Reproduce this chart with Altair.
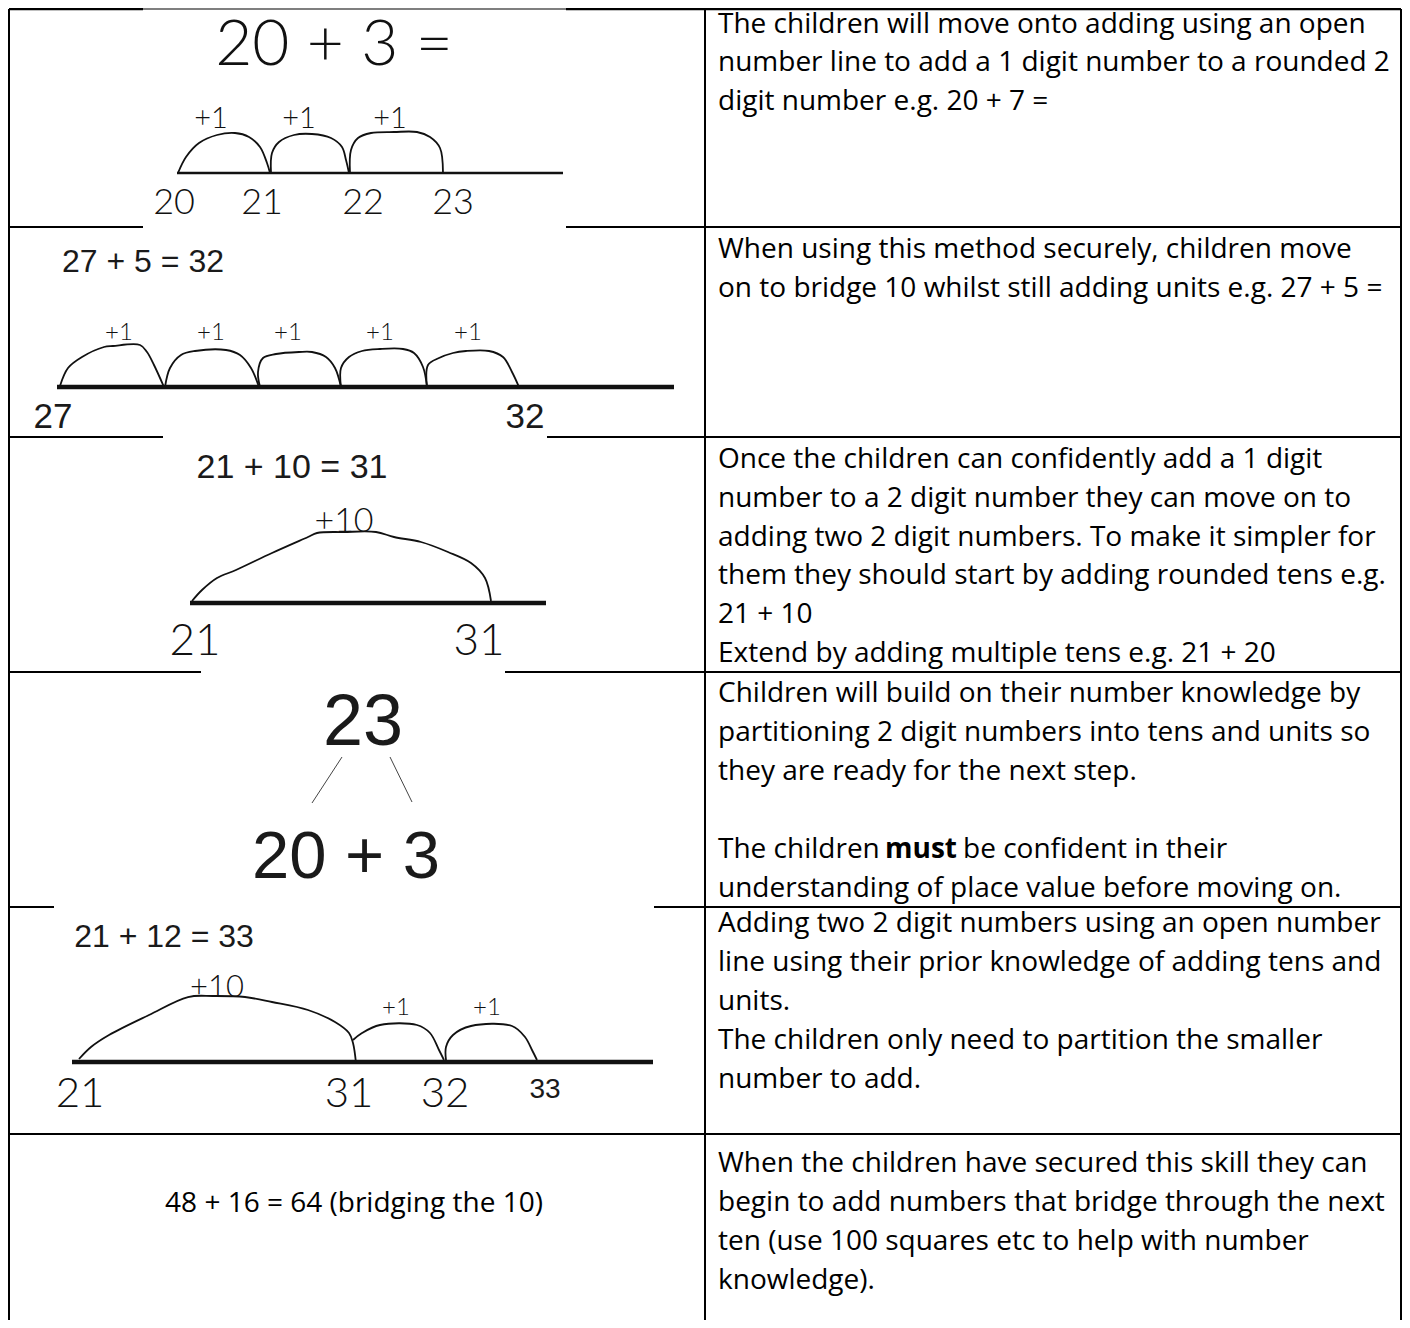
import altair as alt
import pandas as pd

# ---------------- table grid ----------------
H_Y  = [9, 9, 9, 227, 227, 437, 437, 672, 672, 907, 907, 1134]
H_X1 = [9, 143, 566, 9, 566, 9, 547, 9, 505, 9, 654, 9]
H_X2 = [143, 566, 1401, 143, 1401, 163, 1401, 201, 1401, 54, 1401, 1401]
H_W  = [2.5, 1.2, 2.5, 2, 2, 2, 2, 2, 2, 2, 2, 2]
V_X  = [9, 705, 1401]
V_Y1 = [9, 9, 9]
V_Y2 = [1320, 1320, 1320]

# ---------------- right column text ----------------
BODY_TEXT = [
    "The children will move onto adding using an open",
    "number line to add a 1 digit number to a rounded 2",
    "digit number e.g. 20 + 7 =",
    "When using this method securely, children move",
    "on to bridge 10 whilst still adding units e.g. 27 + 5 =",
    "Once the children can confidently add a 1 digit",
    "number to a 2 digit number they can move on to",
    "adding two 2 digit numbers. To make it simpler for",
    "them they should start by adding rounded tens e.g.",
    "21 + 10",
    "Extend by adding multiple tens e.g. 21 + 20",
    "Children will build on their number knowledge by",
    "partitioning 2 digit numbers into tens and units so",
    "they are ready for the next step.",
    "The children",
    "be confident in their",
    "understanding of place value before moving on.",
    "Adding two 2 digit numbers using an open number",
    "line using their prior knowledge of adding tens and",
    "units.",
    "The children only need to partition the smaller",
    "number to add.",
    "When the children have secured this skill they can",
    "begin to add numbers that bridge through the next",
    "ten (use 100 squares etc to help with number",
    "knowledge).",
]
BODY_X = [718] * 15 + [963] + [718] * 10
BODY_Y = [33, 71, 110, 258, 297, 468, 507, 546, 584, 623, 662,
          702, 741, 780, 858, 858, 897, 932, 971, 1010, 1049, 1088,
          1172, 1211, 1250, 1289]
BOLD_TEXT = ["must"]
BOLD_X = [885]
BOLD_Y = [858]

# row 6 left text (centred)
ROW6_TEXT = ["48 + 16 = 64 (bridging the 10)"]
ROW6_X = [354]
ROW6_Y = [1212]

# ---------------- printed (Arial-like) labels ----------------
PRINT_TEXT = ["27 + 5 = 32", "27", "32", "21 + 10 = 31", "23", "20 + 3",
              "21 + 12 = 33", "33"]
PRINT_X = [143, 53, 525, 292, 363, 346, 164, 545]
PRINT_Y = [272, 428, 428, 478, 745, 878, 947, 1098]
PRINT_SIZE = [32, 35, 35, 34, 72, 67, 32, 28]

# ---------------- hand-written labels ----------------
HAND_TEXT = ["20 + 3 =", "+1", "+1", "+1", "20", "21", "22", "23",
             "+1", "+1", "+1", "+1", "+1",
             "+10", "21", "31",
             "+10", "+1", "+1", "21", "31", "32"]
HAND_X = [334, 211, 299, 390, 174, 262, 363, 453,
          119, 211, 288, 380, 468,
          344, 195, 479,
          217, 396, 487, 80, 349, 445]
HAND_Y = [65, 128, 128, 128, 214, 214, 214, 214,
          340, 340, 340, 340, 340,
          532, 655, 655,
          997, 1015, 1015, 1107, 1107, 1107]
HAND_SIZE = [64, 29, 29, 29, 36, 36, 36, 36,
             24, 24, 24, 24, 24,
             34, 44, 44,
             31, 24, 24, 42, 42, 42]

# ---------------- number lines ----------------
NL_X1 = [177, 57, 190, 72]
NL_X2 = [563, 674, 546, 653]
NL_Y  = [173, 387, 603, 1062]
NL_W  = [2.5, 4.5, 4.5, 4.5]

# partition lines (row 4)
PL_X1 = [342, 390]
PL_X2 = [312, 412]
PL_Y1 = [757, 757]
PL_Y2 = [803, 802]

# ---------------- jumps (hand-drawn arcs) ----------------
ARCS = {
    "r1a": ([178, 186, 199, 217, 235, 249, 260, 267, 270],
            [173, 157, 143, 135, 133, 137, 147, 163, 173]),
    "r1b": ([271, 272, 279, 294, 312, 331, 342, 346, 349],
            [173, 153, 142, 135, 134, 138, 147, 160, 173]),
    "r1c": ([350, 351, 358, 371, 394, 417, 430, 440, 443],
            [173, 150, 138, 133, 132, 132, 137, 148, 173]),
    "r2a": ([60, 68, 82, 104, 113, 140, 147, 154, 164],
            [386, 368, 357, 347, 346, 345, 352, 365, 387]),
    "r2b": ([165, 170, 181, 195, 226, 240, 251, 259],
            [387, 368, 355, 351, 350, 355, 368, 387]),
    "r2c": ([260, 258, 263, 276, 299, 312, 326, 335, 341],
            [387, 372, 358, 354, 352, 352, 357, 368, 387]),
    "r2d": ([341, 341, 349, 362, 380, 403, 414, 423, 427],
            [387, 368, 357, 351, 349, 349, 353, 367, 387]),
    "r2e": ([427, 428, 439, 453, 466, 489, 503, 512, 519],
            [387, 365, 358, 353, 351, 351, 357, 372, 387]),
    "r3a": ([192, 202, 217, 236, 272, 308, 317, 344, 376, 394, 421, 448, 471, 485, 491],
            [601, 590, 578, 570, 553, 537, 533, 532, 532, 537, 542, 552, 563, 578, 601]),
    "r5a": ([79, 91, 109, 149, 188, 213, 245, 272, 308, 335, 349, 353, 356],
            [1059, 1047, 1035, 1015, 997, 996, 997, 1002, 1010, 1022, 1033, 1043, 1063]),
    "r5b": ([353, 362, 380, 417, 430, 439, 444],
            [1040, 1033, 1025, 1025, 1033, 1050, 1060]),
    "r5c": ([446, 446, 453, 471, 512, 525, 532, 537],
            [1060, 1047, 1035, 1026, 1026, 1037, 1050, 1060]),
}

# ---------------- build tables ----------------
hseg = pd.DataFrame({"x": H_X1, "x2": H_X2, "y": H_Y, "w": H_W})
vseg = pd.DataFrame({"x": V_X, "y": V_Y1, "y2": V_Y2})
nl = pd.DataFrame({"x": NL_X1, "x2": NL_X2, "y": NL_Y, "w": NL_W})
pl = pd.DataFrame({"x": PL_X1, "x2": PL_X2, "y": PL_Y1, "y2": PL_Y2})
body = pd.DataFrame({"x": BODY_X, "y": BODY_Y, "t": BODY_TEXT})
bold = pd.DataFrame({"x": BOLD_X, "y": BOLD_Y, "t": BOLD_TEXT})
row6 = pd.DataFrame({"x": ROW6_X, "y": ROW6_Y, "t": ROW6_TEXT})
printed = pd.DataFrame({"x": PRINT_X, "y": PRINT_Y, "t": PRINT_TEXT, "s": PRINT_SIZE})
hand = pd.DataFrame({"x": HAND_X, "y": HAND_Y, "t": HAND_TEXT, "s": HAND_SIZE})
rows = []
for name, (xs, ys) in ARCS.items():
    for i, (a, b) in enumerate(zip(xs, ys)):
        rows.append({"arc": name, "o": i, "x": a, "y": b})
arcs = pd.DataFrame(rows)

XS = alt.Scale(domain=[8, 1402], nice=False, zero=False)
YS = alt.Scale(domain=[8, 1320], nice=False, zero=False, reverse=True)
X = alt.X("x:Q", scale=XS, axis=None)
Y = alt.Y("y:Q", scale=YS, axis=None)

BODY_FONT = "Open Sans"
BODY_SIZE = 28
HAND_FONT = "Lato"
PRINT_FONT = "Liberation Sans"

grid_h = alt.Chart(hseg).mark_rule(color="black").encode(
    x=X, x2="x2:Q", y=Y, strokeWidth=alt.StrokeWidth("w:Q", scale=None))
grid_v = alt.Chart(vseg).mark_rule(color="black", strokeWidth=2).encode(
    x=X, y=Y, y2="y2:Q")
lines = alt.Chart(nl).mark_rule(color="#111111").encode(
    x=X, x2="x2:Q", y=Y, strokeWidth=alt.StrokeWidth("w:Q", scale=None))
parts = alt.Chart(pl).mark_rule(color="#444444", strokeWidth=1).encode(
    x=X, x2="x2:Q", y=Y, y2="y2:Q")
jumps = alt.Chart(arcs).mark_line(color="#111111", strokeWidth=1.8,
                                  interpolate="catmull-rom").encode(
    x=X, y=Y, detail="arc:N", order="o:Q")

t_body = alt.Chart(body).mark_text(font=BODY_FONT, fontSize=BODY_SIZE, align="left",
                                   baseline="alphabetic", color="black").encode(
    x=X, y=Y, text="t:N")
t_bold = alt.Chart(bold).mark_text(font=BODY_FONT, fontSize=BODY_SIZE, fontWeight="bold",
                                   align="left", baseline="alphabetic",
                                   color="black").encode(x=X, y=Y, text="t:N")
t_row6 = alt.Chart(row6).mark_text(font=BODY_FONT, fontSize=BODY_SIZE, align="center",
                                   baseline="alphabetic", color="black").encode(
    x=X, y=Y, text="t:N")
t_print = alt.Chart(printed).mark_text(font=PRINT_FONT, align="center",
                                       baseline="alphabetic", color="#1a1a1a").encode(
    x=X, y=Y, text="t:N", size=alt.Size("s:Q", scale=None))
t_hand = alt.Chart(hand).mark_text(font=HAND_FONT, fontWeight=300, align="center",
                                   baseline="alphabetic", color="#111111").encode(
    x=X, y=Y, text="t:N", size=alt.Size("s:Q", scale=None))

chart = alt.layer(grid_h, grid_v, lines, parts, jumps,
                  t_body, t_bold, t_row6, t_print, t_hand).properties(
    width=1394, height=1312, padding=0, autosize="none",
    background="white").configure_view(stroke=None)

chart.save("out.html", embed_options={"renderer": "svg", "actions": False})
